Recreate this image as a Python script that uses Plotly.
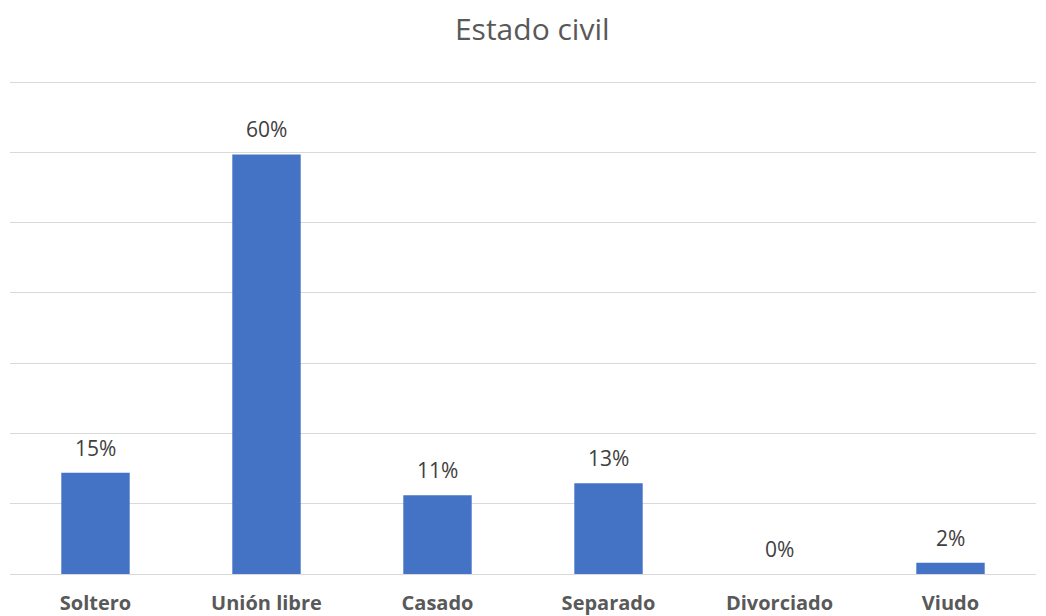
import plotly.graph_objects as go

categories = ["Soltero", "Unión libre", "Casado", "Separado", "Divorciado", "Viudo"]
values = [14.4, 59.7, 11.2, 12.9, 0.0, 1.6]
labels = ["15%", "60%", "11%", "13%", "0%", "2%"]
title_text = "Estado civil"

fig = go.Figure()
fig.add_trace(go.Bar(
    x=categories, y=values,
    marker=dict(color="#4472C4", line=dict(width=0)),
    hoverinfo="skip",
))

for c, v, t in zip(categories, values, labels):
    fig.add_annotation(x=c, y=v, text=t, showarrow=False, yanchor="middle",
                       yshift=25, font=dict(family="Open Sans", size=21, color="#404040"))

fig.update_layout(
    width=1030, height=608,
    margin=dict(l=2, r=2, t=73, b=42),
    paper_bgcolor="white", plot_bgcolor="white",
    bargap=0.6,
    showlegend=False,
    title=dict(text=title_text, x=0.509, xanchor="center", y=1 - 21 / 608, yanchor="middle",
               font=dict(family="Open Sans", size=30, color="#595959")),
    font=dict(family="Open Sans"),
)
fig.update_xaxes(showline=False, showgrid=False, ticks="", ticklabelstandoff=15,
                 automargin=False,
                 tickfont=dict(family="Open Sans", size=20, color="#595959", weight="bold"))
fig.update_yaxes(range=[0, 70.15], tickvals=[10, 20, 30, 40, 50, 60, 70], showgrid=True,
                 gridcolor="#D9D9D9", gridwidth=1.3, automargin=False,
                 showticklabels=False, zeroline=True, zerolinecolor="#D9D9D9", zerolinewidth=1.3,
                 showline=False)

fig.write_html("out.html")
